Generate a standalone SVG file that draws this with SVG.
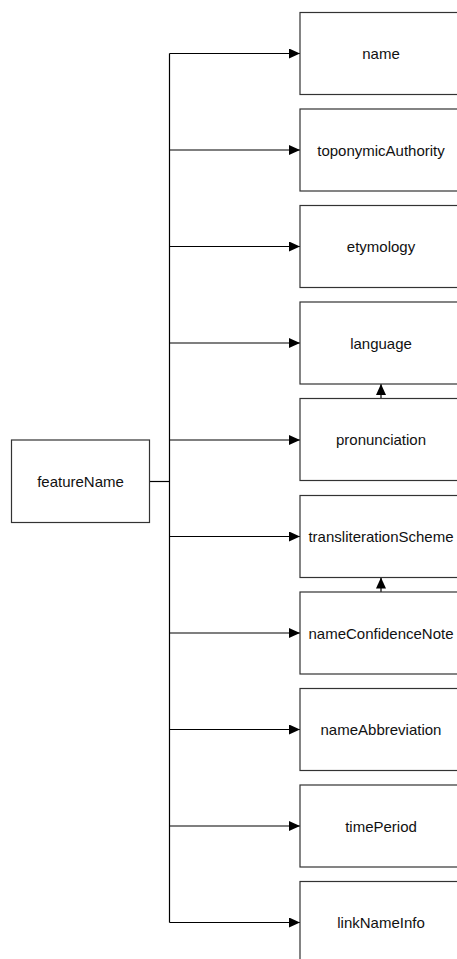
<svg xmlns="http://www.w3.org/2000/svg" width="457" height="959" viewBox="0 0 457 959">
<style>
.box{fill:#fff;stroke:#333;stroke-width:1.2}
.lbl{font-family:"Liberation Sans",Arial,sans-serif;font-size:15px;fill:#111;text-anchor:middle}
.con{fill:none;stroke:#000;stroke-width:1.2}
</style>
<defs>
<marker id="arr" markerWidth="11" markerHeight="10" refX="11" refY="5" orient="auto" markerUnits="userSpaceOnUse">
<path d="M0,0 L11,5 L0,10 Z" fill="#000"/>
</marker>
</defs>
<rect width="457" height="959" fill="#fff"/>
<g id="connectors">
<path class="con" d="M149.5,481.5 H169.5"/>
<path class="con" d="M169.5,53.5 V922.5"/>
<path class="con" d="M169.5,53.5 H300" marker-end="url(#arr)"/>
<path class="con" d="M169.5,150 H300" marker-end="url(#arr)"/>
<path class="con" d="M169.5,246.5 H300" marker-end="url(#arr)"/>
<path class="con" d="M169.5,343 H300" marker-end="url(#arr)"/>
<path class="con" d="M169.5,440 H300" marker-end="url(#arr)"/>
<path class="con" d="M169.5,536.5 H300" marker-end="url(#arr)"/>
<path class="con" d="M169.5,633 H300" marker-end="url(#arr)"/>
<path class="con" d="M169.5,729.5 H300" marker-end="url(#arr)"/>
<path class="con" d="M169.5,826 H300" marker-end="url(#arr)"/>
<path class="con" d="M169.5,922.5 H300" marker-end="url(#arr)"/>
<path class="con" d="M381,398.5 V384" marker-end="url(#arr)"/>
<path class="con" d="M381,592 V577.5" marker-end="url(#arr)"/>
</g>
<g id="featureName"><rect class="box" x="11.5" y="440" width="138" height="82.5"/><text class="lbl" x="80.5" y="486.5">featureName</text></g>
<g id="name"><rect class="box" x="300" y="12.5" width="162" height="82"/><text class="lbl" x="381" y="59">name</text></g>
<g id="toponymicAuthority"><rect class="box" x="300" y="109" width="162" height="82"/><text class="lbl" x="381" y="155.5">toponymicAuthority</text></g>
<g id="etymology"><rect class="box" x="300" y="205.5" width="162" height="82"/><text class="lbl" x="381" y="252">etymology</text></g>
<g id="language"><rect class="box" x="300" y="302" width="162" height="82"/><text class="lbl" x="381" y="348.5">language</text></g>
<g id="pronunciation"><rect class="box" x="300" y="398.5" width="162" height="82"/><text class="lbl" x="381" y="445">pronunciation</text></g>
<g id="transliterationScheme"><rect class="box" x="300" y="495.5" width="162" height="82"/><text class="lbl" x="381" y="542">transliterationScheme</text></g>
<g id="nameConfidenceNote"><rect class="box" x="300" y="592" width="162" height="82"/><text class="lbl" x="381" y="638.5">nameConfidenceNote</text></g>
<g id="nameAbbreviation"><rect class="box" x="300" y="688.5" width="162" height="82"/><text class="lbl" x="381" y="735">nameAbbreviation</text></g>
<g id="timePeriod"><rect class="box" x="300" y="785" width="162" height="82"/><text class="lbl" x="381" y="831.5">timePeriod</text></g>
<g id="linkNameInfo"><rect class="box" x="300" y="881.5" width="162" height="82"/><text class="lbl" x="381" y="928">linkNameInfo</text></g>
</svg>
